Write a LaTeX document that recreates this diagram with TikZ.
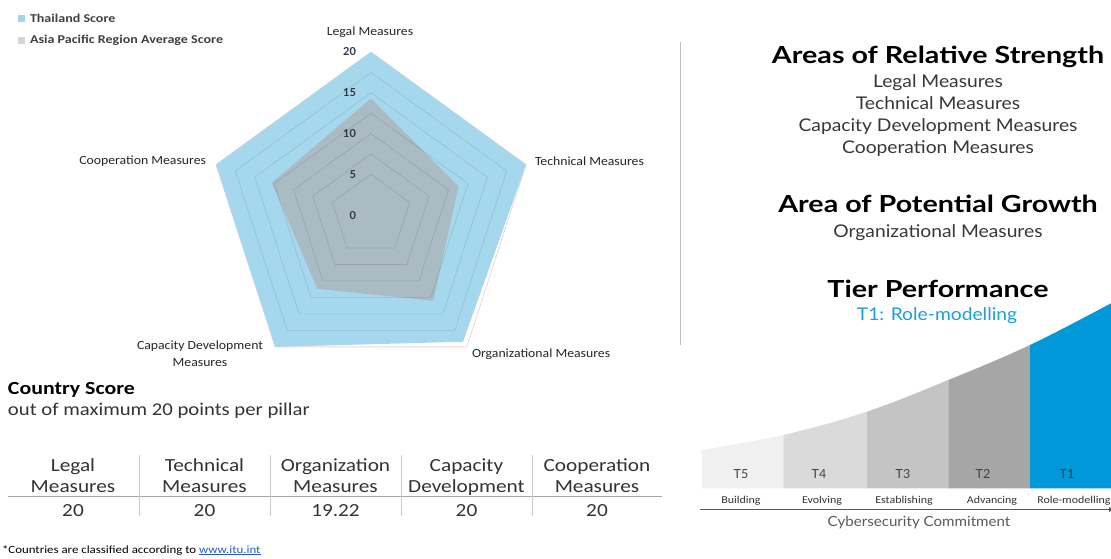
\documentclass[tikz,border=0pt]{standalone}
\usepackage{fontspec}
\setmainfont{Lato}
\newfontfamily\carlL{Carlito}[FakeStretch=1.17]
\newfontfamily\carlC{Carlito}[FakeStretch=1.1]
\newfontfamily\carlT{Carlito}[FakeStretch=1.15]
\newfontfamily\carlB{Carlito}[FakeStretch=1.18]
\newfontfamily\carlS{Carlito}[FakeStretch=1.14]
\newfontfamily\latoH{Lato}[FakeStretch=1.22]
\newfontfamily\latoI{Lato}[FakeStretch=1.1]
\newfontfamily\latoC{Lato}[FakeStretch=1.08]
\usetikzlibrary{calc,arrows.meta}
\definecolor{thblue}{RGB}{166,216,237}
\definecolor{apgray}{RGB}{170,187,195}
\definecolor{legblue}{RGB}{160,212,236}
\definecolor{leggray}{RGB}{212,212,212}
\definecolor{outerpink}{RGB}{238,212,214}
\definecolor{axlab}{RGB}{45,55,65}
\definecolor{itemc}{RGB}{55,55,55}
\definecolor{roleblue}{RGB}{25,160,215}
\definecolor{tone}{RGB}{0,152,216}
\definecolor{ttwo}{RGB}{166,166,166}
\definecolor{tthree}{RGB}{196,196,196}
\definecolor{tfour}{RGB}{218,218,218}
\definecolor{tfive}{RGB}{240,240,240}
\definecolor{linkblue}{RGB}{40,90,200}
\tikzset{
  chartlab/.style={font=\carlC\fontsize{12.5}{17}\selectfont, text=black!85},
  leglab/.style={font=\carlL\bfseries\fontsize{12}{13}\selectfont, text=black!75},
  axisnum/.style={font=\bfseries\fontsize{11}{13}\selectfont, text=axlab, anchor=east},
  headlab/.style={font=\latoH\bfseries\fontsize{23.5}{27}\selectfont, text=black, anchor=base},
  itemlab/.style={font=\latoI\fontsize{17.5}{20}\selectfont, text=itemc, anchor=base},
  tabtxt/.style={font=\carlT\fontsize{18.5}{21}\selectfont, text=black!80, anchor=base},
  tierlab/.style={font=\fontsize{12.5}{14}\selectfont, text=black!75, anchor=base},
  tiersub/.style={font=\carlS\fontsize{10.5}{12}\selectfont, text=black!80, anchor=base},
  gridln/.style={draw=black, draw opacity=0.12, line width=0.6pt},
  sepline/.style={draw=black!25, line width=0.6pt},
}
\begin{document}
\begin{tikzpicture}[x=1pt,y=-1pt, every node/.style={inner sep=0pt, outer sep=0pt}]
\useasboundingbox (0,0) rectangle (1111,558);

% ---------- legend
\fill[legblue] (18,14.5) rectangle (25,21.5);
\fill[leggray] (18,36.5) rectangle (25,43.5);
\node[leglab, anchor=west] (leg1) at (30,18) {Thailand Score};
\node[leglab, anchor=west] (leg2) at (30,40) {Asia Pacific Region Average Score};

% ---------- radar chart
\coordinate (c) at (371,215);
\foreach \k in {0,...,4}{
  \coordinate (ax\k) at ({371+163*cos(90-72*\k)},{215-163*sin(90-72*\k)});
}
\draw[outerpink, line width=0.8pt] (ax0) -- (ax1) -- (ax2) -- (ax3) -- (ax4) -- cycle;
\fill[thblue] (ax0) -- (ax1) -- ($(c)!0.961!(ax2)$) -- (ax3) -- (ax4) -- cycle;
\fill[apgray] ($(c)!14.3/20!(ax0)$) -- ($(c)!11.3/20!(ax1)$) -- ($(c)!13.0/20!(ax2)$)
   -- ($(c)!11.2/20!(ax3)$) -- ($(c)!12.8/20!(ax4)$) -- cycle;
\foreach \L in {5,7.5,10,12.5,15,17.5}{
  \draw[gridln] ($(c)!\L/20!(ax0)$) -- ($(c)!\L/20!(ax1)$) -- ($(c)!\L/20!(ax2)$)
     -- ($(c)!\L/20!(ax3)$) -- ($(c)!\L/20!(ax4)$) -- cycle;
}
\node[axisnum] (n20) at (356,52) {20};
\node[axisnum] (n15) at (356,93) {15};
\node[axisnum] (n10) at (356,134) {10};
\node[axisnum] (n5)  at (356,175) {5};
\node[axisnum] (n0)  at (356,216) {0};
\node[chartlab] (lLegal) at (370,32) {Legal Measures};
\node[chartlab, anchor=west] (lTech) at (535,161) {Technical Measures};
\node[chartlab, anchor=west] (lOrg) at (472,354) {Organizational Measures};
\node[chartlab, align=center] (lCap) at (200,354) {Capacity Development\\Measures};
\node[chartlab, anchor=east] (lCoop) at (206,161) {Cooperation Measures};

% ---------- separator
\draw[sepline] (680,42) -- (680,345);

% ---------- right column text
\node[headlab] (hStr) at (938,63.5) {Areas of Relative Strength};
\node[itemlab] (i1) at (938,87.5) {Legal Measures};
\node[itemlab] (i2) at (938,109.5) {Technical Measures};
\node[itemlab] (i3) at (938,131.5) {Capacity Development Measures};
\node[itemlab] (i4) at (938,153.5) {Cooperation Measures};
\node[headlab] (hGrow) at (938,212.5) {Area of Potential Growth};
\node[itemlab] (i5) at (938,237.5) {Organizational Measures};
\node[headlab] (hTier) at (938,297.5) {Tier Performance};
\node[itemlab, text=roleblue] (tRole) at (937,320) {T1: Role-modelling};

% ---------- tier chart
\foreach \xa/\xb/\col in {701.7/783.3/tfive, 783.3/866.7/tfour, 866.7/948.3/tthree, 948.3/1030/ttwo, 1030/1111/tone}{
  \begin{scope}
    \clip (\xa,250) rectangle (\xb,488.3);
    \fill[\col] (701.7,488.3) -- plot[smooth, tension=0.6] coordinates {(701.7,450) (783.3,435) (866.7,411.7) (948.3,380) (1030,345) (1111,303.3)} -- (1111,488.3) -- cycle;
  \end{scope}
}
\node[tierlab] (t5) at (741,478) {T5};
\node[tierlab] (t4) at (819,478) {T4};
\node[tierlab] (t3) at (903,478) {T3};
\node[tierlab] (t2) at (983,478) {T2};
\node[tierlab] (t1) at (1067,478) {T1};
\node[tiersub] (s5) at (741,503) {Building};
\node[tiersub] (s4) at (822,503) {Evolving};
\node[tiersub] (s3) at (904,503) {Establishing};
\node[tiersub] (s2) at (992,503) {Advancing};
\node[tiersub, anchor=base east] (s1) at (1110.5,503) {Role-modelling};
\coordinate (arA) at (700,509.5);
\coordinate (arB) at (1115,509.5);
\draw[black!65, line width=0.9pt, -{Latex[length=6pt,width=5pt]}] (arA) -- (arB);
\node[font=\latoC\fontsize{14}{16}\selectfont, text=black!65, anchor=base] (cc) at (919,526.5) {Cybersecurity Commitment};

% ---------- country score
\node[font=\carlB\bfseries\fontsize{18.5}{21}\selectfont, anchor=base west] (cs) at (8,394) {Country Score};
\node[font=\carlT\fontsize{18}{21}\selectfont, text=black!80, anchor=base west] (cs2) at (8,415) {out of maximum 20 points per pillar};

% table
\coordinate (rL) at (8,496);
\coordinate (rR) at (662,496);
\draw[black!35, line width=0.8pt] (rL) -- (rR);
\foreach \x in {139,270,401,532}{
  \draw[black!20, line width=0.7pt] (\x,455) -- (\x,516);
}
\node[tabtxt] (h1a) at (73,471.5) {Legal};
\node[tabtxt] (h1b) at (73,492.5) {Measures};
\node[tabtxt] (h2a) at (204.5,471.5) {Technical};
\node[tabtxt] (h2b) at (204.5,492.5) {Measures};
\node[tabtxt] (h3a) at (335.5,471.5) {Organization};
\node[tabtxt] (h3b) at (335.5,492.5) {Measures};
\node[tabtxt] (h4a) at (466.5,471.5) {Capacity};
\node[tabtxt] (h4b) at (466.5,492.5) {Development};
\node[tabtxt] (h5a) at (597,471.5) {Cooperation};
\node[tabtxt] (h5b) at (597,492.5) {Measures};
\node[tabtxt] (v1) at (73,516) {20};
\node[tabtxt] (v2) at (204.5,516) {20};
\node[tabtxt] (v3) at (335.5,516) {19.22};
\node[tabtxt] (v4) at (466.5,516) {20};
\node[tabtxt] (v5) at (597,516) {20};

% footnote
\node[font=\carlL\fontsize{11}{12}\selectfont, anchor=base west] (fn) at (2,553) {*Countries are classified according to \textcolor{linkblue}{\underline{www.itu.int}}};
\end{tikzpicture}
\end{document}
